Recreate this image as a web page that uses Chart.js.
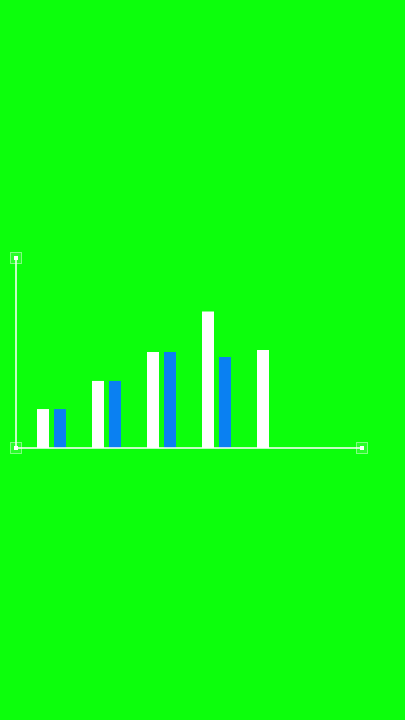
<!DOCTYPE html>
<html>
<head>
<meta charset="utf-8">
<script src="https://cdn.jsdelivr.net/npm/chart.js@4.4.1/dist/chart.umd.min.js"></script>
<style>
  html, body { margin: 0; padding: 0; background: #0cff0c; }
  #wrap { width: 405px; height: 720px; position: relative; }
</style>
</head>
<body>
<div id="wrap"><canvas id="c"></canvas></div>
<script>
const categories = ['1', '2', '3', '4', '5', '6'];
const whiteValues = [20.5, 35.3, 50.5, 71.8, 51.6, null];
const blueValues = [20.5, 35.3, 50.5, 47.9, null, null];
const yMax = 100;

const axisPlugin = {
  id: 'axisArrows',
  afterDatasetsDraw(chart) {
    const { ctx, chartArea: a } = chart;
    const ox = a.left - 8, oy = a.bottom;
    const ty = a.top, rx = a.right + 8;
    ctx.save();
    ctx.strokeStyle = '#ffffff';
    ctx.lineWidth = 1.5;
    ctx.beginPath();
    ctx.moveTo(ox, ty); ctx.lineTo(ox, oy); ctx.lineTo(rx, oy);
    ctx.stroke();
    const marker = (x, y) => {
      ctx.fillStyle = 'rgba(255,255,255,0.12)';
      ctx.fillRect(x - 5.5, y - 5.5, 11, 11);
      ctx.strokeStyle = 'rgba(255,255,255,0.45)';
      ctx.lineWidth = 1;
      ctx.strokeRect(x - 5.5, y - 5.5, 11, 11);
      ctx.fillStyle = '#ffffff';
      ctx.fillRect(x - 2, y - 2, 4, 4);
    };
    marker(ox, ty);
    marker(ox, oy);
    marker(rx, oy);
    ctx.restore();
  }
};

new Chart(document.getElementById('c'), {
  type: 'bar',
  data: {
    labels: categories,
    datasets: [
      { data: whiteValues, backgroundColor: '#ffffff', borderColor: 'rgba(255,255,255,0.7)', borderWidth: 0 },
      { data: blueValues, backgroundColor: '#0a80f2', borderColor: '#1a8af0', borderWidth: 0 }
    ]
  },
  options: {
    responsive: true,
    maintainAspectRatio: false,
    animation: false,
    layout: { padding: { left: 24, right: 51, top: 258, bottom: 272 } },
    datasets: { bar: { categoryPercentage: 34 / 55, barPercentage: 12 / 17 } },
    plugins: { legend: { display: false }, tooltip: { enabled: false } },
    scales: {
      x: { display: false },
      y: { display: false, min: 0, max: yMax }
    }
  },
  plugins: [axisPlugin]
});
</script>
</body>
</html>
